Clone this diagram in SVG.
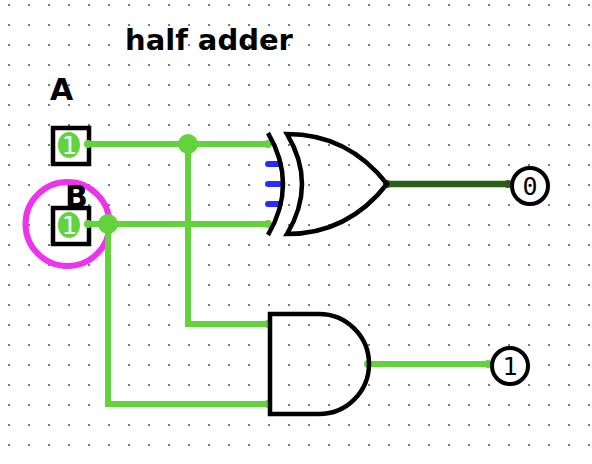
<svg xmlns="http://www.w3.org/2000/svg" width="592" height="464" viewBox="0 0 592 464">
<style>
.lbl{font-family:"DejaVu Sans","Liberation Sans",sans-serif;font-weight:700;fill:#000}
.wire{fill:none;stroke:#62d33d;stroke-width:6;stroke-linecap:round;stroke-linejoin:miter}
.blue{fill:none;stroke:#2b2bff;stroke-width:6;stroke-linecap:round}
.gate{fill:#fff;fill-opacity:0;stroke:#000;stroke-width:4.500;stroke-linejoin:miter}
.box{fill:#fff;stroke:#000;stroke-width:4.500}
.val{font-family:"DejaVu Sans Mono","Liberation Mono",monospace;font-size:25px;text-anchor:middle}
.pin{fill:#62d33d}
</style>
<defs>
<pattern id="grid" width="20" height="20" patternUnits="userSpaceOnUse"><rect x="8" y="4" width="2" height="2" fill="#7a7a7a"/></pattern>
</defs>
<rect width="592" height="464" fill="#fff"/>
<rect width="592" height="464" fill="url(#grid)"/>
<text id="title" class="lbl" x="125" y="50" font-size="29">half adder</text>
<g id="selection"><circle cx="67.5" cy="224" r="42" fill="none" stroke="#ee33ee" stroke-width="6"/></g>
<g id="input-a">
<rect class="box" x="53" y="128" width="36" height="36"/>
<ellipse cx="69" cy="145" rx="11" ry="13" fill="#62d33d"/>
<text class="val" x="69" y="154" fill="#fff">1</text>
<text class="lbl" x="50" y="100" font-size="30">A</text>
</g>
<g id="input-b">
<rect class="box" x="53" y="208" width="36" height="36"/>
<ellipse cx="69" cy="225" rx="11" ry="13" fill="#62d33d"/>
<text class="val" x="69" y="234" fill="#fff">1</text>
<text class="lbl" x="65" y="207" font-size="30">B</text>
</g>
<g id="connectors">
<path class="wire" d="M88,144H268"/>
<path class="wire" d="M88,224H268"/>
<path class="wire" d="M188,144V324H268"/>
<path class="wire" d="M108,224V404H268"/>
<path class="wire" d="M368,364H488"/>
<path d="M387,184H508" fill="none" stroke="#2a5e14" stroke-width="6.500" stroke-linecap="round"/>
<circle class="pin" cx="188" cy="144" r="10"/>
<circle class="pin" cx="108" cy="224" r="10"/>
<circle class="pin" cx="88" cy="144" r="4"/>
<circle class="pin" cx="88" cy="224" r="4"/>
<circle class="pin" cx="268" cy="144" r="4"/>
<circle class="pin" cx="268" cy="224" r="4"/>
<circle class="pin" cx="268" cy="324" r="4"/>
<circle class="pin" cx="268" cy="404" r="4"/>
<circle class="pin" cx="368" cy="364" r="4"/>
<circle class="pin" cx="488" cy="364" r="4"/>
<circle cx="387" cy="184" r="4" fill="#2a5e14"/>
<circle cx="508" cy="184" r="4" fill="#2a5e14"/>
<path class="blue" d="M268,164H280M268,184H280M268,204H280"/>
</g>
<g id="xor-gate">
<path class="gate" d="M268,133Q298,184 268,235"/>
<path class="gate" d="M287,134C330,134 362,152 387,184C362,216 330,234 287,234Q317,184 287,134Z"/>
</g>
<g id="and-gate">
<path class="gate" d="M270,314H319A50,50 0 0 1 319,414H270Z"/>
</g>
<g id="output-sum">
<circle cx="530" cy="186" r="18" fill="#fff" stroke="#000" stroke-width="4"/>
<text class="val" x="530" y="195" fill="#000">0</text>
</g>
<g id="output-carry">
<circle cx="510" cy="366" r="18" fill="#fff" stroke="#000" stroke-width="4"/>
<text class="val" x="510" y="375" fill="#000">1</text>
</g>
</svg>
